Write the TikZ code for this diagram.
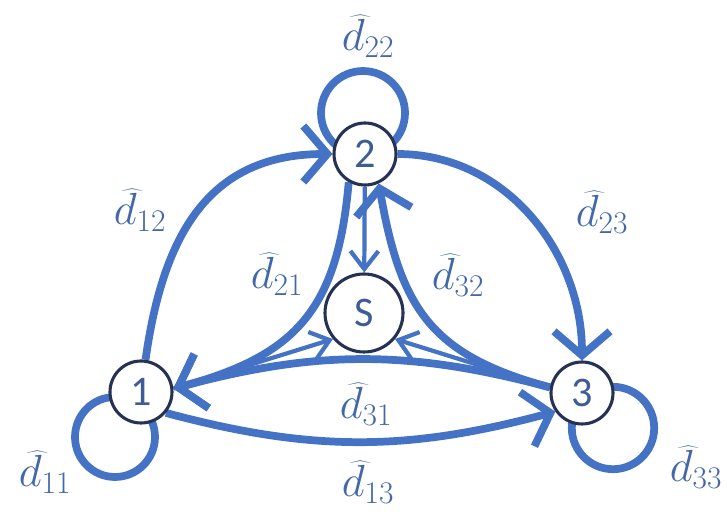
\RequirePackage{fix-cm}
\documentclass[tikz,border=0pt]{standalone}
\usepackage{fontspec}
\newfontfamily\numfont{Carlito}
\usetikzlibrary{arrows.meta,backgrounds}
\definecolor{edgeblue}{RGB}{68,114,196}
\definecolor{rimnavy}{RGB}{38,50,84}
\definecolor{labblue}{RGB}{66,104,170}
\definecolor{numblue}{RGB}{62,92,150}
\begin{document}
\begin{tikzpicture}[every node/.style={font=\fontsize{32}{34}\selectfont},
  agent/.style={circle,draw=rimnavy,line width=2.2pt,fill=white,minimum size=1.55cm,inner sep=0pt,
    text=numblue,font=\fontsize{30}{32}\selectfont\numfont},
  sink/.style={agent,minimum size=1.95cm},
  link/.style={draw=edgeblue,line width=5.5pt,-{Straight Barb[length=6mm,width=14mm]}},
  feed/.style={draw=edgeblue,line width=3pt,-{Straight Barb[length=4.5mm,width=7mm]}},
  selfloop/.style={draw=edgeblue,line width=5.5pt},
  wlab/.style={text=labblue,inner sep=0pt}]
\useasboundingbox (0,0) rectangle (18.175,12.9);
% agents and sink
\node[agent] (n1) at (3.525,3.1) {1};
\node[agent] (n2) at (9.125,9.05) {2};
\node[agent] (n3) at (14.55,3.075) {3};
\node[sink] (s) at (9.1,5.075) {S};
% links, drawn below the nodes
\begin{scope}[on background layer]
\draw[selfloop] ([xshift=-0.65cm,yshift=-1.125cm]n1.center) circle[radius=1cm];
\draw[selfloop] ([xshift=-0.05cm,yshift=1.025cm]n2.center) circle[radius=1.05cm];
\draw[selfloop] ([xshift=0.775cm,yshift=-0.875cm]n3.center) circle[radius=1.03cm];
\draw[link] (n1) to[out=82,in=180,looseness=1.15] (n2);
\draw[link] (n2) to[out=0,in=90] (n3);
\draw[link] (n1.-40) to[out=-15,in=195] (n3.215);
\draw[link] (n3.170) to[out=165,in=15] (n1.6);
\draw[link] (n2.240) to[out=-95,in=15,looseness=1.2] (n1.6);
\draw[link] (n3.170) to[out=165,in=-80,looseness=1.2] (n2.-65);
\draw[feed] (n2) -- (s);
\draw[feed] (n1.6) -- (s.220);
\draw[feed] (n3.170) -- (s.-40);
\end{scope}
% weights
\node[wlab] (w22) at (9.2,12.0) {$\widehat{d}_{22}$};
\node[wlab] (w12) at (3.5,7.65) {$\widehat{d}_{12}$};
\node[wlab] (w23) at (15.05,7.6) {$\widehat{d}_{23}$};
\node[wlab] (w21) at (6.925,6.05) {$\widehat{d}_{21}$};
\node[wlab] (w32) at (11.45,6.025) {$\widehat{d}_{32}$};
\node[wlab] (w31) at (9.15,2.8) {$\widehat{d}_{31}$};
\node[wlab] (w11) at (1.125,1.1) {$\widehat{d}_{11}$};
\node[wlab] (w13) at (9.2,0.85) {$\widehat{d}_{13}$};
\node[wlab] (w33) at (17.4,1.225) {$\widehat{d}_{33}$};
\end{tikzpicture}
\end{document}
